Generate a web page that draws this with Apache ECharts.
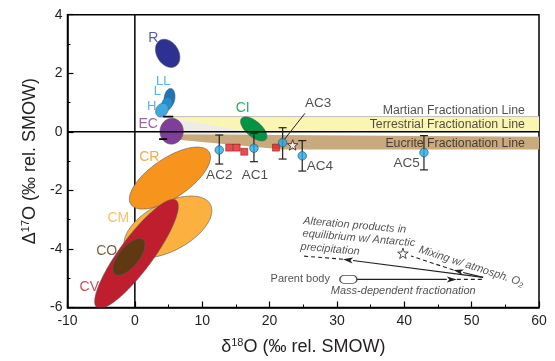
<!DOCTYPE html>
<html>
<head>
<meta charset="utf-8">
<title>Oxygen isotope plot</title>
<script src="https://cdn.jsdelivr.net/npm/echarts@6/dist/echarts.min.js"></script>
<style>
html, body { margin: 0; padding: 0; background: #fff; }
#chart { width: 555px; height: 361px; }
</style>
</head>
<body>
<div id="chart"></div>
<script>
// ---- meteorite group fields, drawn as ellipses:
// centre, end point of the major semi-axis, and minor/major axis ratio
const groupNames   = ['CM', 'CR', 'CV', 'CO', 'R', 'LL', 'L', 'H', 'EC', 'CI'];
const groupCentre  = [[4.91, -3.25], [5.21, -1.58], [0.24, -4.17], [-0.88, -4.27], [4.87, 2.68],
                      [5.14, 1.15], [4.77, 0.95], [4.02, 0.74], [5.46, 0.02], [17.65, 0.10]];
const groupAxisEnd = [[11.21, -2.48], [11.0, -0.68], [6.12, -2.34], [1.22, -3.68], [6.05, 2.24],
                      [5.36, 1.48], [5.14, 1.17], [4.62, 0.95], [5.64, 0.46], [19.46, -0.26]];
const groupRatio   = [0.5, 0.42, 0.25, 0.45, 0.72, 0.55, 0.75, 0.8, 0.9, 0.48];
const groupLabelAt = [[-2.46, -2.95], [2.14, -0.87], [-6.77, -5.29], [-4.19, -4.09], [2.73, 3.19],
                      [4.22, 1.73], [3.33, 1.37], [2.49, 0.86], [1.99, 0.27], [16.0, 0.80]];

// ---- samples with error bars
const acNames    = ['AC1', 'AC2', 'AC3', 'AC4', 'AC5'];
const acD18O     = [17.68, 12.53, 21.94, 24.85, 42.92];
const acD17O     = [-0.56, -0.62, -0.37, -0.82, -0.71];
const acErrLow   = [-1.02, -1.10, -0.93, -1.34, -1.30];
const acErrHigh  = [-0.05, -0.11, 0.14, -0.30, -0.13];
const acLabelAt  = [[17.83, -1.48], [12.53, -1.48], [27.2, 0.97], [27.48, -1.19], [40.35, -1.06]];

// ---- other measurements
const sqD18O = [14.01, 15.11, 16.24, 20.95];
const sqD17O = [-0.54, -0.54, -0.68, -0.54];
const starPoint = [23.43, -0.45];

// ---- fractionation line fields
const martianBand  = [[4.2, 0.52], [60, 0.52], [60, 0.0], [17.1, 0.0], [5.46, 0.46]];
const gapWedge     = [[5.46, 0.46], [17.1, 0.0], [21, -0.17], [5.0, -0.08]];
const eucriteBand  = [[5.0, -0.08], [60, -0.17], [60, -0.6], [22, -0.6], [4.8, -0.24]];
const fracNames    = ['Martian Fractionation Line', 'Terrestrial Fractionation Line', 'Eucrite Fractionation Line'];
const fracLabelAt  = [[57.9, 0.74], [57.9, 0.23], [57.9, -0.39]];
const ecLimits     = [[[4.2, 0.52], [5.7, 0.52]], [[3.6, -0.25], [4.8, -0.25]]];
const ac3Leader    = [[22.2, -0.26], [25.25, 0.63]];

// ---- process sketch (lower right)
const sketchArrows = [[[51.7, -4.97], [30.9, -4.35]], [[51.7, -4.97], [47.3, -4.72]], [[33.0, -5.04], [47.8, -5.04]]];
const sketchDashes = [[[30.9, -4.35], [24.8, -4.24]], [[47.3, -4.72], [41.0, -4.24]], [[47.8, -5.04], [51.7, -5.04]]];
const sketchStar   = [39.8, -4.15];
const parentBody   = [31.7, -5.04];
const notes   = ['Alteration products in', 'equilibrium w/ Antarctic', 'precipitation',
                 '{i|Mixing w/ atmosph. O}{s|2}', 'Parent body', 'Mass-dependent fractionation'];
const notePos = [[25.0, -3.04], [24.9, -3.47], [24.6, -3.92], [42.2, -4.01], [28.96, -5.04], [39.85, -5.43]];

const FONT = '"Liberation Sans", Arial, Helvetica, sans-serif';
const INK = '#231f20';
const groupColor = {
  CM: '#fbb040', CR: '#f7941d', CV: '#be1e2d', CO: '#603913', R: '#2e3192',
  LL: '#1c75bc', L: '#1e91d6', H: '#3fa9e0', EC: '#7f3f98', CI: '#009444'
};
const labelColor = Object.assign({}, groupColor, { LL: '#29a3dc', L: '#29a3dc', H: '#29a3dc' });

const chart = echarts.init(document.getElementById('chart'));

function polygonSeries(points, fill, z) {
  return {
    type: 'custom', z, silent: true, clip: true,
    data: [points[0]], encode: { x: 0, y: 1 },
    renderItem: (p, api) => ({
      type: 'polygon',
      shape: { points: points.map(pt => api.coord(pt)) },
      style: { fill: fill, stroke: 'none' }
    })
  };
}

function segmentSeries(segs, style, z) {
  return {
    type: 'custom', z, silent: true, clip: true,
    data: segs.map(s => [s[0][0], s[0][1], s[1][0], s[1][1]]),
    encode: { x: [0, 2], y: [1, 3] },
    renderItem: (p, api) => {
      const a = api.coord([api.value(0), api.value(1)]);
      const b = api.coord([api.value(2), api.value(3)]);
      return { type: 'line', shape: { x1: a[0], y1: a[1], x2: b[0], y2: b[1] },
               style: Object.assign({ stroke: INK, lineWidth: 1.2 }, style) };
    }
  };
}

function arrowSeries(segs, z) {
  return {
    type: 'custom', z, silent: true,
    data: segs.map(s => [s[0][0], s[0][1], s[1][0], s[1][1]]),
    encode: { x: [0, 2], y: [1, 3] },
    renderItem: (p, api) => {
      const a = api.coord([api.value(0), api.value(1)]);
      const b = api.coord([api.value(2), api.value(3)]);
      const dx = b[0] - a[0], dy = b[1] - a[1];
      const len = Math.hypot(dx, dy), ux = dx / len, uy = dy / len;
      const hl = 10, hw = 3;
      const base = [b[0] - ux * hl, b[1] - uy * hl];
      return { type: 'group', children: [
        { type: 'line', shape: { x1: a[0], y1: a[1], x2: base[0], y2: base[1] },
          style: { stroke: INK, lineWidth: 1.1 } },
        { type: 'polygon', shape: { points: [b, [base[0] - uy * hw, base[1] + ux * hw], [base[0] + ux * 2.5, base[1] + uy * 2.5], [base[0] + uy * hw, base[1] - ux * hw]] },
          style: { fill: INK } }
      ] };
    }
  };
}

const ellipseSeries = {
  type: 'custom', z: 3, silent: true, clip: true,
  data: groupCentre.map(c => [c[0], c[1]]),
  encode: { x: 0, y: 1 },
  renderItem: (p, api) => {
    const i = p.dataIndex;
    const c = api.coord(groupCentre[i]);
    const e = api.coord(groupAxisEnd[i]);
    const ax = e[0] - c[0], ay = e[1] - c[1];
    const bx = -ay * groupRatio[i], by = ax * groupRatio[i];
    const pts = [];
    for (let k = 0; k < 96; k++) {
      const t = k / 96 * Math.PI * 2;
      pts.push([c[0] + Math.cos(t) * ax + Math.sin(t) * bx, c[1] + Math.cos(t) * ay + Math.sin(t) * by]);
    }
    return { type: 'polygon', shape: { points: pts },
             style: { fill: groupColor[groupNames[i]], stroke: '#5a5a5a', lineWidth: 0.6 } };
  }
};

function txt(value, text, style) {
  return { value: value, label: Object.assign({ show: true, formatter: text, position: 'inside',
    fontFamily: FONT, color: INK, fontSize: 13 }, style) };
}

const labelData = [];
groupNames.forEach((g, i) => labelData.push(txt(groupLabelAt[i], g, {
  color: labelColor[g], fontSize: (g === 'LL' || g === 'L' || g === 'H') ? 13 : 14 })));
acNames.forEach((n, i) => labelData.push(txt(acLabelAt[i], n, { fontSize: 13.5 })));
fracNames.forEach((n, i) => labelData.push(txt(fracLabelAt[i], n, { fontSize: 12.3, align: 'right' })));
notes.forEach((n, i) => {
  const st = { fontSize: 11, fontStyle: 'italic', align: 'left' };
  if (i <= 2) st.rotate = -5;
  if (i === 3) {
    st.rotate = -18;
    st.rich = { i: { fontSize: 11, fontStyle: 'italic', fontFamily: FONT, color: INK },
                s: { fontSize: 7.5, fontStyle: 'italic', fontFamily: FONT, color: INK, verticalAlign: 'bottom', padding: [6, 0, 0, 0] } };
  }
  if (i === 4) { st.fontStyle = 'normal'; st.align = 'right'; }
  if (i === 5) st.align = 'center';
  labelData.push(txt(notePos[i], n, st));
});

const option = {
  animation: false,
  backgroundColor: '#fff',
  grid: { left: 67.5, right: 16, top: 14.7, bottom: 53.5, show: true, borderColor: '#000', borderWidth: 1.5,
          containLabel: false, outerBoundsMode: 'none' },
  xAxis: {
    type: 'value', min: -10, max: 60, interval: 10,
    axisLine: { show: true, onZero: false, lineStyle: { color: '#000', width: 1.5 } },
    axisTick: { inside: true, length: 6, lineStyle: { color: '#000', width: 1.2 } },
    minorTick: { show: true, splitNumber: 2, length: 3, lineStyle: { color: '#000', width: 1 } },
    splitLine: { show: false },
    axisLabel: { color: INK, fontSize: 14, fontFamily: FONT, margin: 7 },
    name: '{t|δ}{s|18}{t|O (‰ rel. SMOW)}', nameLocation: 'middle', nameGap: 30,
    nameTextStyle: { rich: {
      t: { fontSize: 18, fontFamily: FONT, color: INK },
      s: { fontSize: 11, fontFamily: FONT, color: INK, verticalAlign: 'top', padding: [0, 0, 8, 0] } } }
  },
  yAxis: {
    type: 'value', min: -6, max: 4, interval: 2,
    axisLine: { show: true, onZero: false, lineStyle: { color: '#000', width: 1.5 } },
    axisTick: { inside: true, length: 6, lineStyle: { color: '#000', width: 1.2 } },
    minorTick: { show: true, splitNumber: 2, length: 3, lineStyle: { color: '#000', width: 1 } },
    splitLine: { show: false },
    axisLabel: { color: INK, fontSize: 14, fontFamily: FONT, margin: 5 },
    name: '{t|Δ}{s|17}{t|O (‰ rel. SMOW)}', nameLocation: 'middle', nameGap: 28, nameRotate: 90,
    nameTextStyle: { rich: {
      t: { fontSize: 18, fontFamily: FONT, color: INK },
      s: { fontSize: 11, fontFamily: FONT, color: INK, verticalAlign: 'top', padding: [0, 0, 8, 0] } } }
  },
  series: [
    polygonSeries(martianBand, '#fbf5b3', 1),
    polygonSeries(gapWedge, '#eeece6', 1),
    polygonSeries(eucriteBand, '#c9aa7c', 1),
    segmentSeries([[[4.2, 0.52], [60, 0.52]]], { stroke: '#bdbdbd', lineWidth: 1 }, 1),
    segmentSeries([[[0, -6], [0, 4]]], { stroke: '#000', lineWidth: 1.5 }, 2),
    ellipseSeries,
    segmentSeries([[[-10, 0], [60, 0]]], { stroke: '#000', lineWidth: 1.5 }, 4),
    segmentSeries(ecLimits, { stroke: '#000', lineWidth: 1.6 }, 4),
    segmentSeries([ac3Leader], { lineWidth: 1 }, 5),
    segmentSeries(sketchDashes, { lineWidth: 1.1, lineDash: [4, 3] }, 5),
    arrowSeries(sketchArrows, 5),
    {
      type: 'custom', z: 5, silent: true,
      data: acD18O.map((x, i) => [x, acErrLow[i], acErrHigh[i]]),
      encode: { x: 0, y: [1, 2] },
      renderItem: (p, api) => {
        const lo = api.coord([api.value(0), api.value(1)]);
        const hi = api.coord([api.value(0), api.value(2)]);
        const w = 4, st = { stroke: INK, lineWidth: 1.2 };
        return { type: 'group', children: [
          { type: 'line', shape: { x1: lo[0], y1: lo[1], x2: hi[0], y2: hi[1] }, style: st },
          { type: 'line', shape: { x1: lo[0] - w, y1: lo[1], x2: lo[0] + w, y2: lo[1] }, style: st },
          { type: 'line', shape: { x1: hi[0] - w, y1: hi[1], x2: hi[0] + w, y2: hi[1] }, style: st }
        ] };
      }
    },
    {
      type: 'scatter', z: 6, silent: true, symbol: 'rect', symbolSize: 7,
      data: sqD18O.map((x, i) => [x, sqD17O[i]]),
      itemStyle: { color: '#ed1c24', borderColor: '#5a1a1a', borderWidth: 0.6 }
    },
    {
      type: 'scatter', z: 6, silent: true, symbol: 'circle', symbolSize: 8.5,
      data: acD18O.map((x, i) => [x, acD17O[i]]),
      itemStyle: { color: '#27aae1', borderColor: '#1b4f7a', borderWidth: 0.8 }
    },
    {
      type: 'scatter', z: 6, silent: true,
      symbol: 'path://M0,-10 L2.35,-3.24 9.51,-3.09 3.8,1.24 5.88,8.09 0,4 -5.88,8.09 -3.8,1.24 -9.51,-3.09 -2.35,-3.24 Z',
      symbolSize: 10.5,
      data: [starPoint, sketchStar],
      itemStyle: { color: '#fff', borderColor: INK, borderWidth: 1 }
    },
    {
      type: 'scatter', z: 6, silent: true,
      symbol: 'path://M4,0 H13 A4,4 0 0 1 13,8 H4 A4,4 0 0 1 4,0 Z',
      symbolSize: [17, 8],
      data: [parentBody],
      itemStyle: { color: '#fff', borderColor: INK, borderWidth: 1 }
    },
    {
      type: 'scatter', z: 7, silent: true, symbolSize: 0,
      data: labelData
    }
  ]
};

chart.setOption(option);
</script>
</body>
</html>
